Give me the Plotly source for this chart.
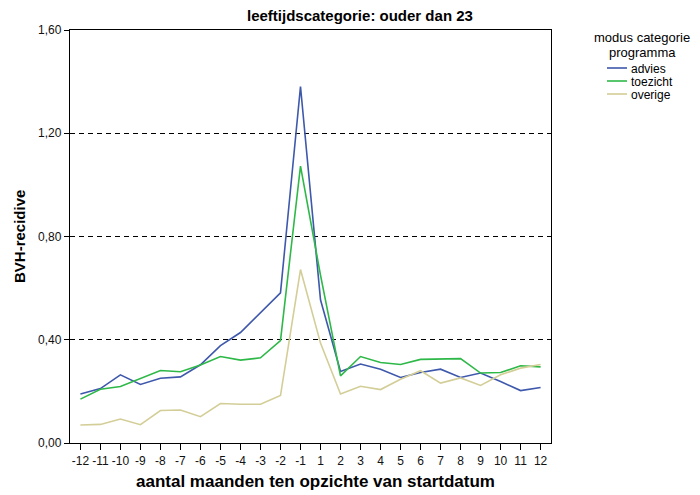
import plotly.graph_objects as go

months = ["-12", "-11", "-10", "-9", "-8", "-7", "-6", "-5", "-4", "-3", "-2", "-1",
          "1", "2", "3", "4", "5", "6", "7", "8", "9", "10", "11", "12"]

advies = [0.190, 0.211, 0.264, 0.227, 0.251, 0.256, 0.303, 0.377, 0.428, 0.506, 0.582, 1.381,
          0.555, 0.277, 0.306, 0.286, 0.254, 0.273, 0.286, 0.254, 0.271, 0.238, 0.203, 0.215]
toezicht = [0.170, 0.208, 0.219, 0.250, 0.281, 0.276, 0.302, 0.335, 0.321, 0.330, 0.397, 1.073,
            0.650, 0.260, 0.335, 0.312, 0.304, 0.324, 0.326, 0.327, 0.271, 0.273, 0.299, 0.295]
overige = [0.070, 0.072, 0.093, 0.071, 0.126, 0.128, 0.102, 0.153, 0.150, 0.150, 0.184, 0.672,
           0.387, 0.190, 0.220, 0.207, 0.247, 0.280, 0.232, 0.252, 0.223, 0.264, 0.290, 0.304]

series_names = ["advies", "toezicht", "overige"]
series_colors = ["#3E58AC", "#2EB848", "#D3CE97"]
y_ticks = [0.0, 0.4, 0.8, 1.2, 1.6]

title_text = "leeftijdscategorie: ouder dan 23"
legend_title_lines = ["modus categorie", "programma"]
x_title = "aantal maanden ten opzichte van startdatum"
y_title = "BVH-recidive"

FONT = "Arial, Liberation Sans, sans-serif"

# plot area in pixels
L, R, T, B = 70, 551, 30, 443

fig = go.Figure()
for name, vals, col in zip(series_names, [advies, toezicht, overige], series_colors):
    fig.add_trace(go.Scatter(x=months, y=vals, mode="lines", name=name,
                             line=dict(color=col, width=1.6), showlegend=False))

fig.update_layout(
    width=700, height=495,
    margin=dict(l=L, r=700 - R, t=T, b=495 - B, autoexpand=False),
    plot_bgcolor="white", paper_bgcolor="white",
    separators=",.",
    font=dict(family=FONT, size=12, color="#000"),
    xaxis=dict(type="category", range=[-0.52, 23.52], showline=True, linecolor="#000",
               linewidth=1.3, mirror=True, ticks="outside", ticklen=6, tickcolor="#000",
               showgrid=False, zeroline=False, automargin=False,
               tickfont=dict(size=12, color="#111")),
    yaxis=dict(range=[0, 1.6], tickvals=y_ticks, tickformat=".2f", showline=True,
               linecolor="#000", linewidth=1.3, mirror=True, ticks="outside", ticklen=5,
               tickcolor="#000", showgrid=True, gridcolor="#000", gridwidth=1,
               griddash="5px,4px", zeroline=False, automargin=False,
               tickfont=dict(size=12, color="#111")),
)


def px_x(px):
    return (px - L) / (R - L)


def px_y(py):
    return (B - py) / (B - T)


# title
fig.add_annotation(text="<b>" + title_text + "</b>", xref="paper", yref="paper",
                   x=px_x(360), y=px_y(15), showarrow=False,
                   font=dict(size=15, family=FONT, color="#000"), xanchor="center",
                   yanchor="middle")

# axis titles
fig.add_annotation(text="<b>" + x_title + "</b>", xref="paper", yref="paper",
                   x=px_x(315), y=px_y(481), showarrow=False,
                   font=dict(size=17, family=FONT, color="#000"), xanchor="center",
                   yanchor="middle")
fig.add_annotation(text="<b>" + y_title + "</b>", xref="paper", yref="paper",
                   x=px_x(19), y=px_y(237), showarrow=False, textangle=-90,
                   font=dict(size=15, family=FONT, color="#000"), xanchor="center",
                   yanchor="middle")

# legend drawn manually
for j, line in enumerate(legend_title_lines):
    fig.add_annotation(text=line, xref="paper", yref="paper", x=px_x(642), y=px_y(38 + 14 * j),
                       showarrow=False, font=dict(size=13, family=FONT, color="#000"),
                       xanchor="center", yanchor="middle")
for i, (name, col) in enumerate(zip(series_names, series_colors)):
    yy = 68 + 13 * i
    fig.add_shape(type="line", xref="paper", yref="paper", x0=px_x(607), x1=px_x(627),
                  y0=px_y(yy), y1=px_y(yy), line=dict(color=col, width=1.6))
    fig.add_annotation(text=name, xref="paper", yref="paper", x=px_x(629), y=px_y(yy + 1),
                       showarrow=False, font=dict(size=12, family=FONT, color="#000"),
                       xanchor="left", yanchor="middle")

fig.write_html("out.html", config={"displayModeBar": False},
               post_script="document.body.style.margin='0';")
